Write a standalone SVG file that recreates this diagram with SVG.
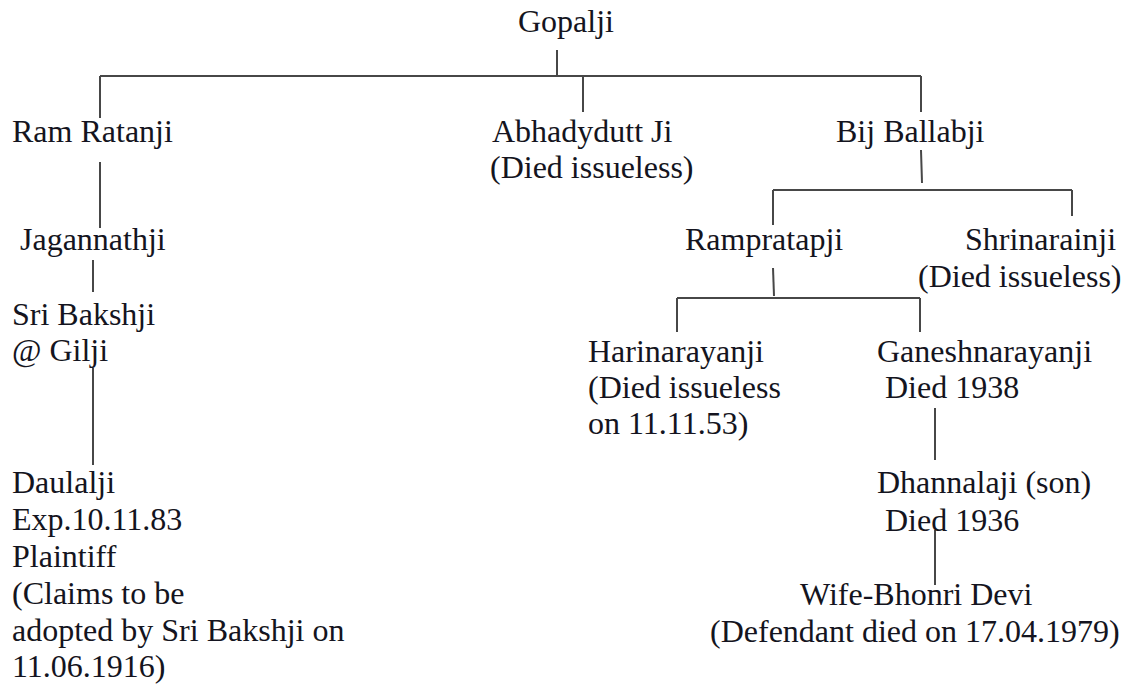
<svg xmlns="http://www.w3.org/2000/svg" width="1126" height="684" viewBox="0 0 1126 684">
<style>
text{font-family:'Liberation Serif','Times New Roman',Tinos,'DejaVu Serif',serif;font-size:32px;fill:#141420}
.c line{stroke:#474747;stroke-width:2;fill:none}
</style>
<rect width="1126" height="684" fill="#fff"/>
<g class="c" id="connectors">
<line x1="557" y1="50" x2="557" y2="76"/>
<line x1="100" y1="76" x2="921" y2="76"/>
<line x1="100" y1="76" x2="100" y2="118"/>
<line x1="583" y1="76" x2="583" y2="112"/>
<line x1="921" y1="76" x2="921" y2="112"/>
<line x1="100" y1="162" x2="100" y2="228"/>
<line x1="921" y1="150" x2="922" y2="183"/>
<line x1="773" y1="190" x2="1072" y2="190"/>
<line x1="773" y1="190" x2="773" y2="225"/>
<line x1="1072" y1="190" x2="1072" y2="216"/>
<line x1="93" y1="260" x2="93" y2="292"/>
<line x1="93" y1="368" x2="93" y2="465"/>
<line x1="773" y1="268" x2="774" y2="296"/>
<line x1="677" y1="298" x2="920" y2="298"/>
<line x1="677" y1="298" x2="677" y2="332"/>
<line x1="920" y1="298" x2="920" y2="332"/>
<line x1="935" y1="408" x2="935" y2="460"/>
<line x1="935" y1="530" x2="935" y2="585"/>
</g>
<g id="gopalji"><text x="518" y="32">Gopalji</text></g>
<g id="ramratanji"><text x="12" y="142">Ram Ratanji</text></g>
<g id="abhadydutt"><text x="492" y="142">Abhadydutt Ji</text><text x="490" y="178">(Died issueless)</text></g>
<g id="bijballabji"><text x="836" y="142">Bij Ballabji</text></g>
<g id="jagannathji"><text x="20" y="250">Jagannathji</text></g>
<g id="rampratapji"><text x="685" y="250">Rampratapji</text></g>
<g id="shrinarainji"><text x="965" y="250">Shrinarainji</text><text x="918" y="287">(Died issueless)</text></g>
<g id="sribakshji"><text x="12" y="325">Sri Bakshji</text><text x="12" y="361">@ Gilji</text></g>
<g id="daulalji"><text x="12" y="493">Daulalji</text><text x="12" y="530">Exp.10.11.83</text><text x="12" y="567">Plaintiff</text><text x="12" y="604">(Claims to be</text><text x="12" y="641">adopted by Sri Bakshji on</text><text x="12" y="677">11.06.1916)</text></g>
<g id="harinarayanji"><text x="588" y="362">Harinarayanji</text><text x="588" y="398">(Died issueless</text><text x="588" y="434">on 11.11.53)</text></g>
<g id="ganeshnarayanji"><text x="877" y="362">Ganeshnarayanji</text><text x="885" y="398">Died 1938</text></g>
<g id="dhannalaji"><text x="877" y="493">Dhannalaji (son)</text><text x="885" y="531">Died 1936</text></g>
<g id="bhonridevi"><text x="800" y="605">Wife-Bhonri Devi</text><text x="710" y="642">(Defendant died on 17.04.1979)</text></g>
</svg>
